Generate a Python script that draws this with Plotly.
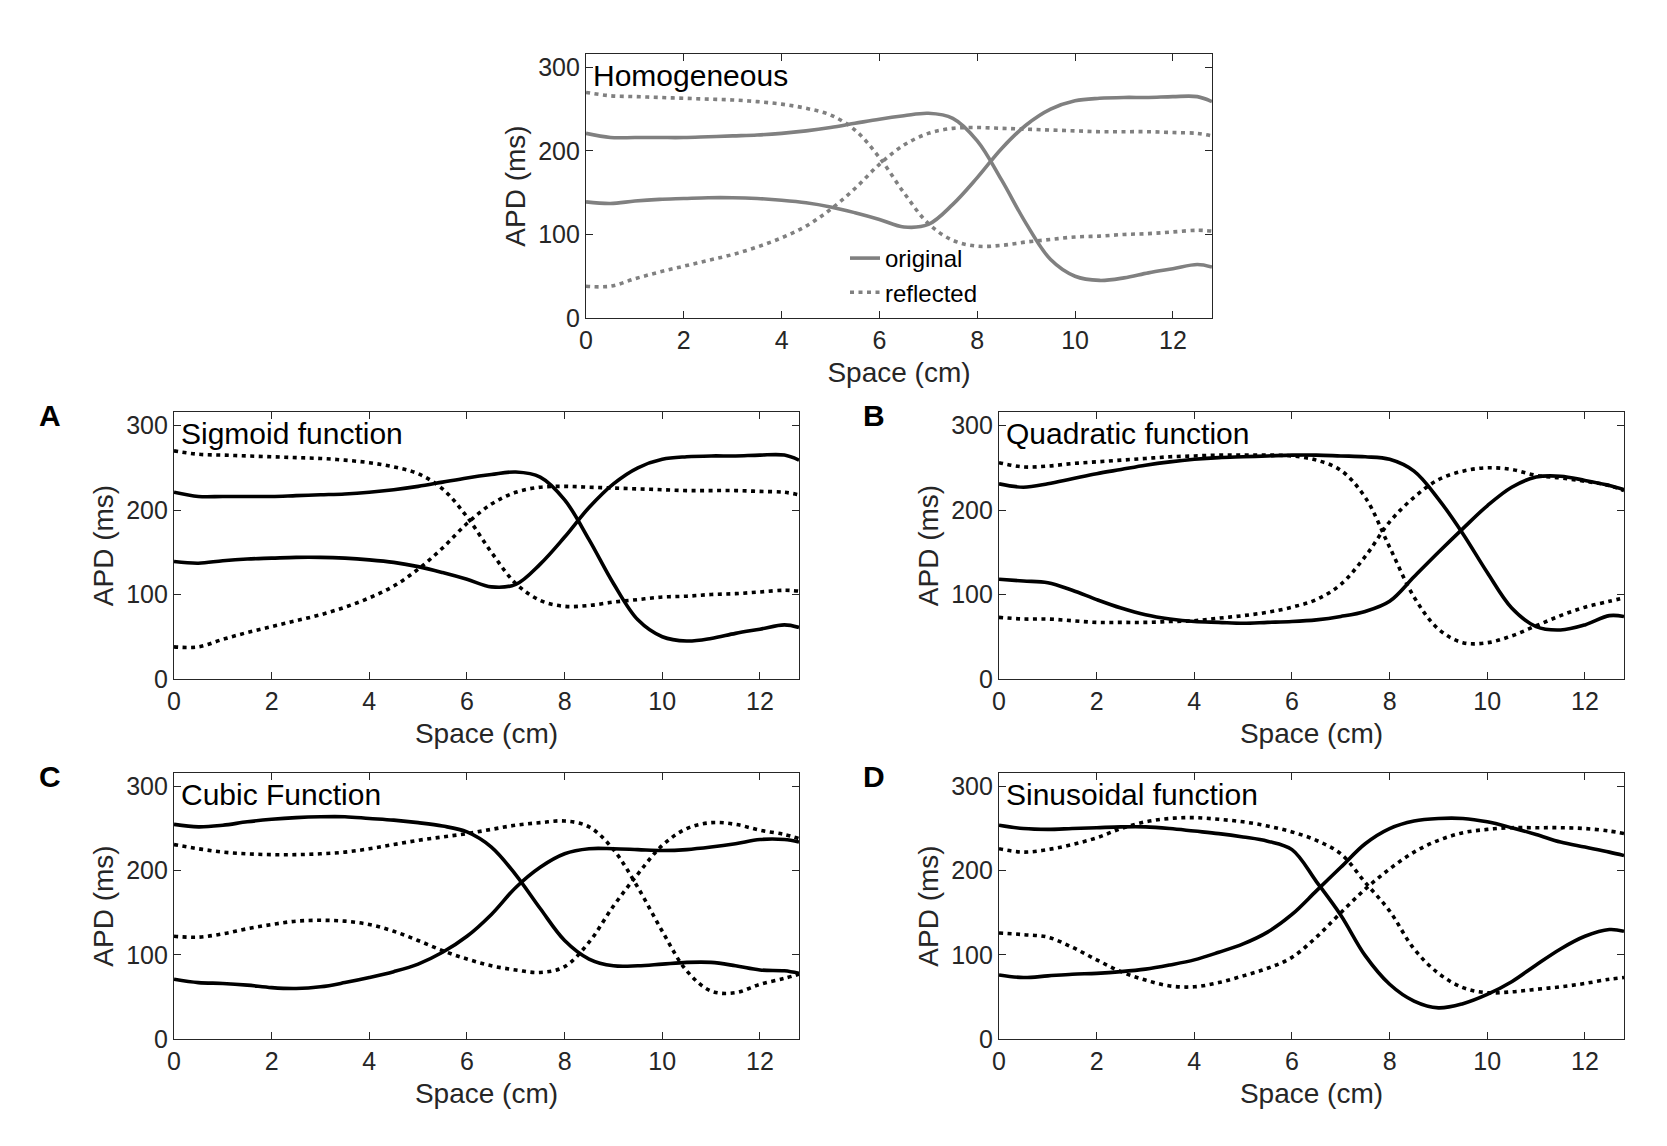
import plotly.graph_objects as go

# sample positions along the cable (cm)
space_cm = [0, 0.5, 1, 1.5, 2, 2.5, 3, 3.5, 4, 4.5, 5, 5.5, 6, 6.5,
            7, 7.5, 8, 8.5, 9, 9.5, 10, 10.5, 11, 11.5, 12, 12.5, 12.8]

# Sigmoid (same as homogeneous)
sig_orig_hi = [221, 216, 216, 216, 216, 217, 218, 219, 221, 224, 228, 233, 238, 242,
               245, 239, 212, 165, 113, 70, 50, 45, 48, 54, 59, 64, 61]
sig_orig_lo = [139, 137, 140, 142, 143, 144, 144, 143, 141, 138, 133, 126, 118, 109,
               112, 136, 168, 203, 231, 250, 260, 263, 264, 264, 265, 265, 259]
sig_refl_hi = [270, 266, 265, 264, 263, 262, 261, 259, 256, 251, 243, 225, 192, 150,
               113, 93, 86, 87, 91, 94, 97, 98, 100, 101, 103, 105, 104]
sig_refl_lo = [38, 38, 47, 55, 62, 69, 76, 85, 96, 110, 130, 155, 184, 207,
               221, 227, 228, 227, 226, 225, 224, 223, 223, 223, 222, 221, 218]

# Quadratic
quad_orig_hi = [231, 227, 231, 237, 243, 248, 253, 257, 260, 262, 263, 264, 265, 265,
                264, 263, 260, 246, 213, 172, 126, 84, 62, 58, 64, 75, 74]
quad_orig_lo = [118, 116, 114, 105, 94, 84, 76, 71, 68, 67, 66, 67, 68, 70,
                74, 80, 92, 121, 150, 178, 205, 227, 239, 240, 235, 229, 224]
quad_refl_hi = [256, 251, 252, 255, 257, 259, 261, 263, 264, 265, 265, 265, 264, 259,
                247, 215, 156, 97, 59, 43, 43, 51, 63, 75, 85, 92, 96]
quad_refl_lo = [73, 71, 71, 69, 67, 67, 67, 68, 69, 72, 75, 79, 85, 94,
                112, 145, 186, 215, 236, 246, 250, 248, 241, 238, 234, 229, 223]

# Cubic
cub_orig_hi = [255, 252, 254, 258, 261, 263, 264, 264, 262, 260, 257, 253, 246, 228,
               195, 155, 117, 95, 87, 87, 89, 91, 91, 87, 82, 81, 78]
cub_orig_lo = [71, 67, 66, 64, 61, 60, 62, 67, 73, 80, 89, 103, 122, 148,
               180, 204, 220, 226, 226, 225, 224, 225, 228, 232, 237, 237, 234]
cub_refl_hi = [231, 226, 222, 220, 219, 219, 220, 222, 226, 231, 236, 240, 244, 249,
               254, 257, 259, 252, 225, 180, 128, 81, 57, 55, 65, 72, 77]
cub_refl_lo = [122, 121, 125, 131, 136, 140, 141, 140, 136, 128, 117, 105, 95, 87,
               82, 79, 86, 115, 158, 196, 230, 250, 257, 255, 248, 243, 238]

# Sinusoidal
sin_orig_hi = [254, 250, 249, 250, 251, 252, 252, 250, 247, 244, 240, 235, 225, 187,
               147, 99, 65, 45, 37, 42, 53, 68, 88, 107, 122, 130, 128]
sin_orig_lo = [76, 73, 75, 77, 78, 80, 83, 88, 94, 103, 113, 127, 148, 176,
               204, 232, 250, 259, 262, 262, 258, 251, 243, 234, 228, 222, 218]
sin_refl_hi = [226, 222, 225, 231, 239, 250, 258, 262, 263, 261, 258, 253, 246, 236,
               220, 186, 152, 107, 78, 61, 55, 56, 59, 62, 66, 71, 73]
sin_refl_lo = [126, 124, 121, 109, 94, 80, 70, 63, 62, 67, 75, 84, 97, 121,
               150, 178, 202, 222, 236, 245, 249, 251, 251, 251, 250, 247, 244]

x_ticks = [0, 2, 4, 6, 8, 10, 12]
y_ticks = [0, 100, 200, 300]

W, H = 1667, 1146
FONT = "Liberation Sans"
AXC = "#262626"

# (axis number, title, letter, colour, pixel box l, r, t, b, curves)
panels = [
    (1, "Homogeneous", "", "#808080", 578, 1204, 46, 310,
     [sig_orig_hi, sig_orig_lo], [sig_refl_hi, sig_refl_lo]),
    (2, "Sigmoid function", "A", "black", 166, 791, 404, 671,
     [sig_orig_hi, sig_orig_lo], [sig_refl_hi, sig_refl_lo]),
    (3, "Quadratic function", "B", "black", 991, 1616, 404, 671,
     [quad_orig_hi, quad_orig_lo], [quad_refl_hi, quad_refl_lo]),
    (4, "Cubic Function", "C", "black", 166, 791, 765, 1031,
     [cub_orig_hi, cub_orig_lo], [cub_refl_hi, cub_refl_lo]),
    (5, "Sinusoidal function", "D", "black", 991, 1616, 765, 1031,
     [sin_orig_hi, sin_orig_lo], [sin_refl_hi, sin_refl_lo]),
]

fig = go.Figure()
annotations = []
layout_axes = {}

for n, title, letter, color, l, r, t, b, orig, refl in panels:
    sfx = "" if n == 1 else str(n)
    for i, ys in enumerate(orig):
        fig.add_trace(go.Scatter(
            x=space_cm, y=ys, mode="lines", xaxis="x" + sfx, yaxis="y" + sfx,
            line=dict(color=color, width=3.6, shape="spline", smoothing=1.0),
            name="original", legendgroup="orig",
            showlegend=(n == 1 and i == 0)))
    for i, ys in enumerate(refl):
        fig.add_trace(go.Scatter(
            x=space_cm, y=ys, mode="lines", xaxis="x" + sfx, yaxis="y" + sfx,
            line=dict(color=color, width=3.6, shape="spline", smoothing=1.0,
                      dash="4px,4.5px"),
            name="reflected", legendgroup="refl",
            showlegend=(n == 1 and i == 0)))

    common = dict(showgrid=False, zeroline=False, showline=True, linecolor=AXC,
                  linewidth=1.2, mirror="ticks", ticks="inside", ticklen=7,
                  tickcolor=AXC, tickwidth=1.2, automargin=False,
                  tickfont=dict(family=FONT, size=25, color=AXC))
    layout_axes["xaxis" + sfx] = dict(
        common, domain=[l / W, r / W], range=[0, 12.8], tickvals=x_ticks,
        anchor="y" + sfx,
        title=dict(text="Space (cm)", standoff=9,
                   font=dict(family=FONT, size=28, color=AXC)))
    layout_axes["yaxis" + sfx] = dict(
        common, domain=[1 - b / H, 1 - t / H], range=[0, 316], tickvals=y_ticks,
        anchor="x" + sfx,
        title=dict(text="APD (ms)", standoff=4,
                   font=dict(family=FONT, size=28, color=AXC)))

    annotations.append(dict(
        text=title, xref="x" + sfx, yref="y" + sfx, x=0.1, y=290,
        xanchor="left", yanchor="middle", showarrow=False,
        font=dict(family=FONT, size=30, color="black")))
    if letter:
        annotations.append(dict(
            text="<b>%s</b>" % letter, xref="paper", yref="paper",
            x=42 / W if l < 500 else 866 / W, y=1 - (t + 3) / H,
            xanchor="center", yanchor="middle", showarrow=False,
            font=dict(family=FONT, size=30, color="black")))

fig.update_layout(
    width=W, height=H,
    margin=dict(l=0, r=0, t=0, b=0),
    paper_bgcolor="white", plot_bgcolor="white",
    font=dict(family=FONT, color=AXC),
    annotations=annotations,
    legend=dict(x=837 / W, y=1 - 228 / H, xanchor="left", yanchor="top",
                bgcolor="rgba(0,0,0,0)", tracegroupgap=0,
                font=dict(family=FONT, size=24, color="black")),
    **layout_axes,
)

fig.write_html("out.html")
